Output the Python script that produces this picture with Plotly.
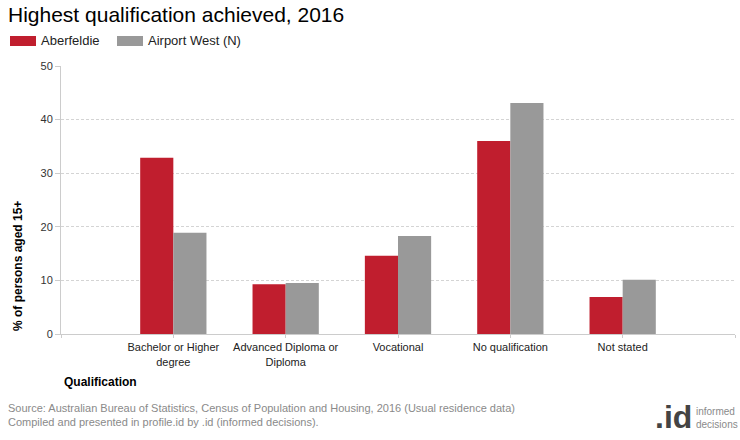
import plotly.graph_objects as go

categories = ["Bachelor or Higher<br>degree", "Advanced Diploma or<br>Diploma", "Vocational", "No qualification", "Not stated"]
series_names = ["Aberfeldie", "Airport West (N)"]
aberfeldie = [32.9, 9.3, 14.6, 36.0, 6.9]
airport_west = [18.9, 9.5, 18.3, 43.1, 10.1]
y_ticks = [0, 10, 20, 30, 40, 50]

RED = "#C01E2E"
GREY = "#999999"
FONT = "Liberation Sans, Arial, sans-serif"

W, H = 740, 440
L, R, T, B = 61, 5, 66, 106
PW, PH = W - L - R, H - T - B


def px_x(x):
    return (x - L) / PW


def px_y(y):
    return (T + PH - y) / PH


xpos = list(range(len(categories)))

fig = go.Figure()
fig.add_trace(go.Bar(x=xpos, y=aberfeldie, name=series_names[0], marker=dict(color=RED, line=dict(width=0))))
fig.add_trace(go.Bar(x=xpos, y=airport_west, name=series_names[1], marker=dict(color=GREY, line=dict(width=0))))

fig.update_layout(
    width=W, height=H,
    margin=dict(l=L, r=R, t=T, b=B, autoexpand=False),
    paper_bgcolor="white", plot_bgcolor="white",
    barmode="group", bargap=0.41, bargroupgap=0,
    font=dict(family=FONT, color="#333333", size=11),
    showlegend=False,
    title=dict(text="Highest qualification achieved, 2016", xref="container", yref="container",
               x=8 / W, xanchor="left", y=1 - 15 / H, yanchor="middle",
               font=dict(size=21, color="#000000", family=FONT)),
)

fig.update_xaxes(
    range=[-1, 5], automargin=False,
    tickmode="array", tickvals=[-1] + xpos + [5], ticktext=[""] + categories + [""],
    showline=True, linecolor="#cccccc", linewidth=1,
    ticks="outside", ticklen=3, tickcolor="#cccccc", tickwidth=1,
    showgrid=False, zeroline=False,
    tickfont=dict(size=11, color="#222222", family=FONT),
)
fig.update_yaxes(
    range=[0, 50], tickvals=y_ticks, automargin=False,
    showline=True, linecolor="#cccccc", linewidth=1,
    ticks="outside", ticklen=5, tickcolor="#cccccc",
    showgrid=True, gridcolor="#d4d4d4", griddash="3px,2px", gridwidth=1,
    zeroline=False,
    tickfont=dict(size=11, color="#333333", family=FONT),
)

# manual legend
legend_items = [(series_names[0], RED, 10), (series_names[1], GREY, 117)]
for name, col, x0 in legend_items:
    fig.add_shape(type="rect", xref="paper", yref="paper",
                  x0=px_x(x0), x1=px_x(x0 + 26), y0=px_y(46), y1=px_y(36),
                  fillcolor=col, line=dict(width=0))
    fig.add_annotation(text=name, xref="paper", yref="paper", x=px_x(x0 + 29), y=px_y(41),
                       xanchor="left", yanchor="middle", showarrow=False,
                       font=dict(size=13, color="#222222", family=FONT))

fig.add_annotation(text="<b>% of persons aged 15+</b>", textangle=-90,
                   xref="paper", yref="paper", x=px_x(18), y=px_y(333), xanchor="center", yanchor="bottom",
                   showarrow=False, font=dict(size=12, color="#000000", family=FONT))
fig.add_annotation(text="<b>Qualification</b>", xref="paper", yref="paper",
                   x=px_x(62), y=px_y(382), xanchor="left", yanchor="middle",
                   showarrow=False, font=dict(size=12, color="#000000", family=FONT))
fig.add_annotation(text="Source: Australian Bureau of Statistics, Census of Population and Housing, 2016 (Usual residence data)<br>Compiled and presented in profile.id by .id (informed decisions).",
                   xref="paper", yref="paper", x=px_x(6), y=px_y(415), xanchor="left", yanchor="middle",
                   align="left", showarrow=False, font=dict(size=11, color="#8a8a8a", family=FONT))
fig.add_annotation(text="<b>.id</b>", xref="paper", yref="paper", x=px_x(694), y=px_y(417),
                   xanchor="right", yanchor="middle", showarrow=False,
                   font=dict(size=32, color="#444444", family=FONT))
fig.add_annotation(text="informed<br>decisions", xref="paper", yref="paper", x=px_x(694), y=px_y(418),
                   xanchor="left", yanchor="middle", align="left", showarrow=False,
                   font=dict(size=10, color="#8a8a8a", family=FONT))

fig.write_html("out.html", post_script="document.body.style.margin='0';",
               config={"displayModeBar": False})
